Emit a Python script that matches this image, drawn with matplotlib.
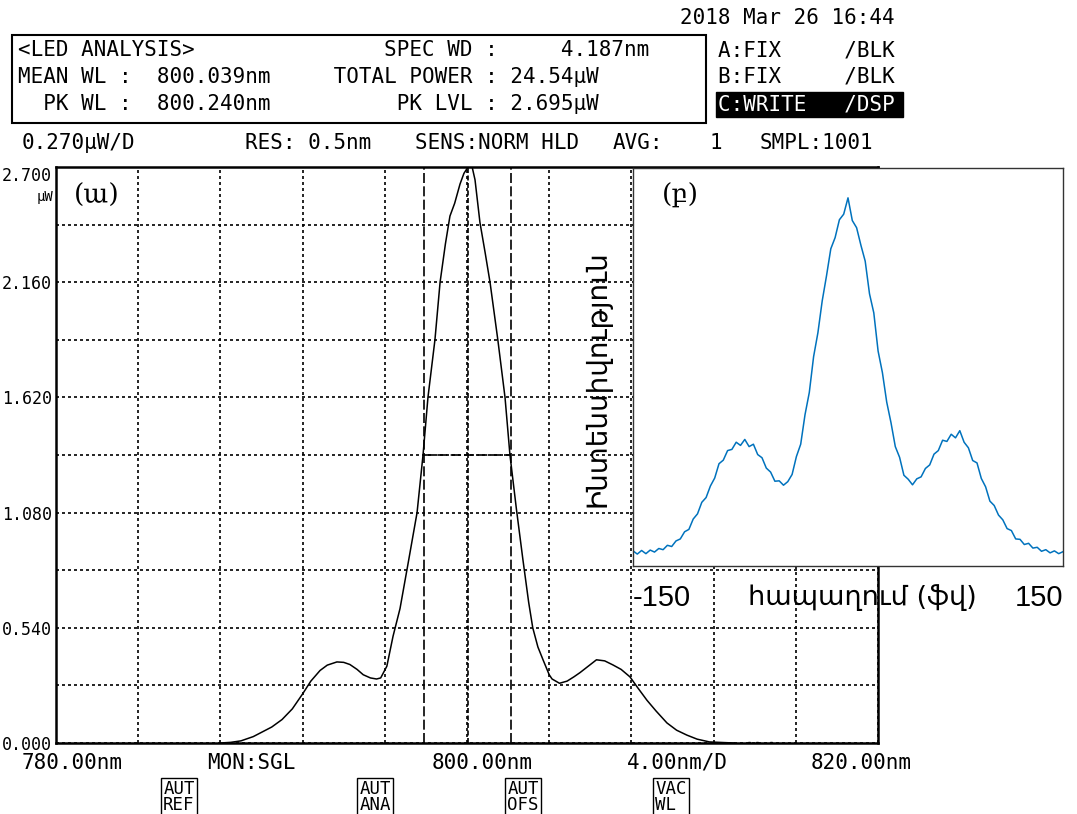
import matplotlib.pyplot as plt
import numpy as np
from matplotlib.patches import Rectangle

W, H = 1077, 814

# main OSA trace (nm, uW)
wl_nm = [788.0, 788.5, 789.0, 789.6, 790.0, 790.5, 791.0, 791.5, 792.0, 792.4,
         792.85, 793.2, 793.67, 794.0, 794.3, 794.65, 794.95, 795.3, 795.6, 795.8,
         796.1, 796.4, 796.74, 797.13, 797.57, 797.86, 798.1, 798.44, 798.69, 798.95,
         799.17, 799.4, 799.66, 799.85, 800.05, 800.25, 800.39, 800.63, 800.88, 801.12,
         801.5, 801.85, 802.09, 802.4, 802.72, 803.0, 803.2, 803.45, 803.7, 804.0,
         804.14, 804.5, 804.87, 805.2, 805.5, 805.9, 806.3, 806.7, 807.1, 807.5,
         807.93, 808.3, 808.76, 809.2, 809.73, 810.2, 810.7, 811.2, 811.8, 812.5, 813.0]
power_uw = [0.000, 0.003, 0.010, 0.030, 0.050, 0.075, 0.110, 0.160, 0.230, 0.290,
            0.340, 0.365, 0.380, 0.378, 0.368, 0.345, 0.320, 0.305, 0.300, 0.305,
            0.360, 0.500, 0.630, 0.840, 1.080, 1.350, 1.620, 1.890, 2.160, 2.340,
            2.470, 2.530, 2.620, 2.670, 2.700, 2.700, 2.640, 2.440, 2.300, 2.160,
            1.890, 1.620, 1.350, 1.100, 0.860, 0.660, 0.540, 0.450, 0.390, 0.320,
            0.300, 0.280, 0.290, 0.310, 0.330, 0.360, 0.390, 0.385, 0.366, 0.345,
            0.310, 0.260, 0.200, 0.150, 0.094, 0.060, 0.037, 0.018, 0.005, 0.002, 0.000]
tail_nm = [813.7, 814.1, 814.8]
tail_uw = [0.0, 0.0, 0.0]

# analysis markers
spec_left, spec_right, spec_level = 797.9, 802.14, 1.35
mean_wl = 800.039

y_grid = [0.0, 0.27, 0.54, 0.81, 1.08, 1.35, 1.62, 1.89, 2.16, 2.43, 2.70]
y_labels = ['0.000', '', '0.540', '', '1.080', '', '1.620', '', '2.160', '', '2.700']
x_grid = [780, 784, 788, 792, 796, 800, 804, 808, 812, 816, 820]

# inset: autocorrelation trace
delay_fs = list(range(-150, 151, 3))
intensity = [0.038, 0.030, 0.039, 0.031, 0.040, 0.035, 0.044, 0.041, 0.052, 0.049,
             0.063, 0.068, 0.086, 0.092, 0.118, 0.131, 0.160, 0.172, 0.201, 0.221,
             0.257, 0.266, 0.290, 0.293, 0.311, 0.303, 0.318, 0.300, 0.306, 0.280,
             0.272, 0.246, 0.236, 0.213, 0.214, 0.203, 0.212, 0.230, 0.275, 0.306,
             0.380, 0.436, 0.526, 0.586, 0.666, 0.729, 0.797, 0.825, 0.870, 0.884,
             0.925, 0.868, 0.850, 0.806, 0.766, 0.684, 0.636, 0.540, 0.486, 0.412,
             0.360, 0.300, 0.273, 0.228, 0.218, 0.204, 0.219, 0.224, 0.245, 0.254,
             0.281, 0.290, 0.316, 0.313, 0.331, 0.322, 0.340, 0.311, 0.297, 0.265,
             0.259, 0.220, 0.199, 0.163, 0.152, 0.128, 0.116, 0.094, 0.089, 0.068,
             0.067, 0.054, 0.057, 0.045, 0.047, 0.037, 0.041, 0.033, 0.038, 0.031, 0.036]

header = ['<LED ANALYSIS>               SPEC WD :     4.187nm',
          'MEAN WL :  800.039nm     TOTAL POWER : 24.54\u03bcW',
          '  PK WL :  800.240nm          PK LVL : 2.695\u03bcW']
traces = ['A:FIX     /BLK', 'B:FIX     /BLK', 'C:WRITE   /DSP']


def px(x, y):
    return x / W, 1 - y / H


mono = 'DejaVu Sans Mono'
fig = plt.figure(figsize=(W / 100, H / 100), dpi=100)

ax = fig.add_axes([56 / W, 1 - 743 / H, 822 / W, 576 / H])
ax.set_xlim(780, 820)
ax.set_ylim(0, 2.7)
ax.set_xticks(x_grid)
ax.set_yticks(y_grid, y_labels)
ax.grid(True, color='black', linestyle=(0, (1.8, 1.8)), linewidth=1.2)
ax.tick_params(length=0, labelbottom=False, pad=3)
for lab in ax.get_yticklabels():
    lab.set_family(mono)
    lab.set_fontsize(12)
ax.get_yticklabels()[-1].set_va('top')
for s in ax.spines.values():
    s.set_linewidth(1.8)

ax.plot(wl_nm, power_uw, color='black', lw=1.1, zorder=3)
ax.plot(tail_nm, tail_uw, 's', color='black', ms=1.5, zorder=3)
ax.axvline(spec_left, color='black', lw=1.2, linestyle=(0, (6, 2)))
ax.axvline(spec_right, color='black', lw=1.2, linestyle=(0, (6, 2)))
ax.axvline(mean_wl, color='black', lw=1.2, linestyle=(0, (3, 1.5)))
ax.hlines(spec_level, spec_left, spec_right, color='black', lw=1.2,
          linestyle=(0, (6, 2)))

fig.text(*px(53, 197), '\u03bcW', family=mono, size=10, ha='right', va='center')

# inset
ins = fig.add_axes([633 / W, 1 - 566 / H, 430 / W, 398 / H], zorder=5)
ins.plot(delay_fs, intensity, color='#0072BD', lw=1.1)
ins.set_xlim(-150, 150)
ins.set_ylim(0, 1)
ins.set_yticks([])
ins.set_xticks([-150, 150], ['-150', '150'])
ins.tick_params(length=0, pad=13, labelsize=21)
for lab in ins.get_xticklabels():
    lab.set_family(['Liberation Sans', 'DejaVu Sans'])
ins.get_xticklabels()[0].set_ha('left')
ins.get_xticklabels()[1].set_ha('right')
for s in ins.spines.values():
    s.set_color('#333333')
    s.set_linewidth(1.0)
ins.set_ylabel('\u053b\u0576\u057f\u0565\u0576\u057d\u056b\u057e\u0578\u0582\u0569\u0575\u0578\u0582\u0576',
               fontsize=20, family='DejaVu Sans')
ins.yaxis.set_label_coords(-0.05, 0.47)
ins.text(0.533, -0.08, '\u0570\u0561\u057a\u0561\u0572\u0578\u0582\u0574 (\u0586\u057e)',
         transform=ins.transAxes, ha='center', va='center', fontsize=19.5,
         family='DejaVu Sans')

fig.text(*px(97, 195), '(\u0561)', family=['DejaVu Serif', 'DejaVu Sans'], size=19,
         ha='center', va='center')
fig.text(*px(680, 195), '(\u0562)', family=['DejaVu Serif', 'DejaVu Sans'], size=19,
         ha='center', va='center', zorder=10)

# screen header
fig.text(*px(680, 18), '2018 Mar 26 16:44', family=mono, size=15, va='center')
fig.patches.append(Rectangle(px(12, 123), 694 / W, 88 / H, fill=False, lw=1.5,
                             ec='black', transform=fig.transFigure))
for i, line in enumerate(header):
    fig.text(*px(18, 50 + 27 * i), line, family=mono, size=15, va='center')
fig.patches.append(Rectangle(px(716, 117), 187 / W, 25 / H, color='black',
                             transform=fig.transFigure))
for i, line in enumerate(traces):
    fig.text(*px(718, 50 + 27 * i), line, family=mono, size=15, va='center',
             color='white' if i == 2 else 'black')

for x, s in [(22, '0.270\u03bcW/D'), (245, 'RES: 0.5nm'), (415, 'SENS:NORM HLD'),
             (613, 'AVG:'), (710, '1'), (760, 'SMPL:1001')]:
    fig.text(*px(x, 143), s, family=mono, size=15, va='center')

for x, s in [(22, '780.00nm'), (207, 'MON:SGL'), (432, '800.00nm'),
             (627, '4.00nm/D'), (811, '820.00nm')]:
    fig.text(*px(x, 763), s, family=mono, size=15, va='center')

for x, s in [(179, 'AUT\nREF'), (375, 'AUT\nANA'), (523, 'AUT\nOFS'), (671, 'VAC\nWL ')]:
    fig.text(*px(x, 797), s, family=mono, size=12.5, ha='center', va='center',
             linespacing=0.8,
             bbox=dict(boxstyle='square,pad=0.15', fc='white', ec='black', lw=1))

plt.savefig('out.png', dpi=100)
